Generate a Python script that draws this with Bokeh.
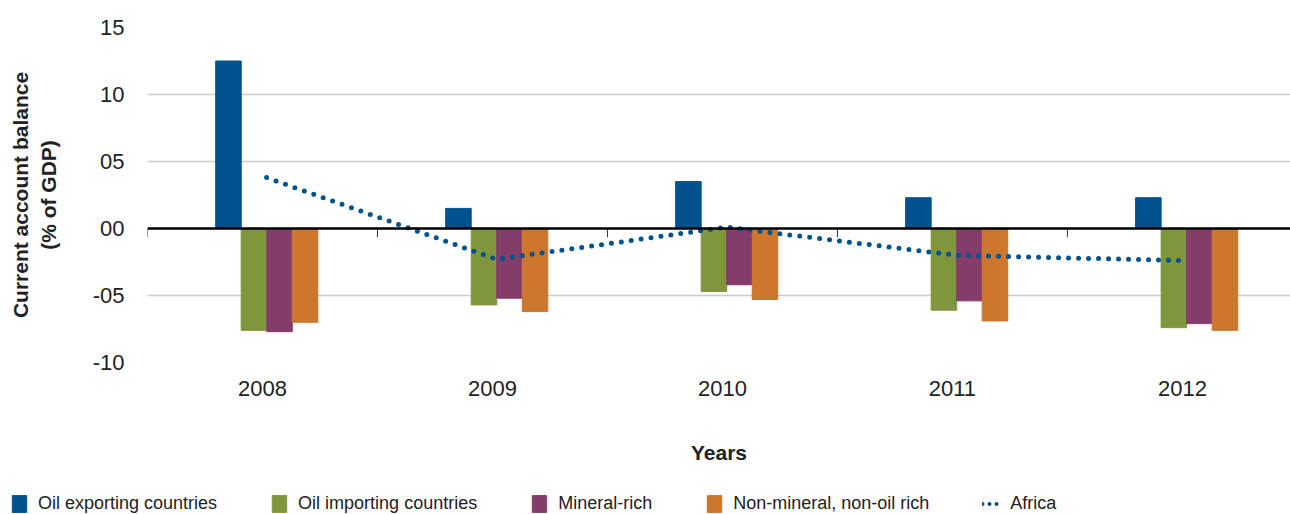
from bokeh.plotting import figure
from bokeh.layouts import column
from bokeh.models import Range1d, FixedTicker, Span, Legend, LegendItem, ColumnDataSource
from bokeh.transform import dodge
from bokeh.embed import file_html
from bokeh.resources import INLINE

years = ["2008", "2009", "2010", "2011", "2012"]
oil_exporting = [12.5, 1.5, 3.5, 2.3, 2.3]
oil_importing = [-7.6, -5.7, -4.7, -6.1, -7.4]
mineral_rich = [-7.7, -5.2, -4.2, -5.4, -7.1]
non_mineral = [-7.0, -6.2, -5.3, -6.9, -7.6]
africa = [3.8, -2.3, 0.1, -2.0, -2.4]
y_ticks = [-10, -5, 0, 5, 10, 15]
y_tick_labels = ["-10", "-05", "00", "05", "10", "15"]
series_names = ["Oil exporting countries", "Oil importing countries", "Mineral-rich",
                "Non-mineral, non-oil rich", "Africa"]

BLUE = "#00528f"
GREEN = "#7f963d"
PURPLE = "#843c6a"
ORANGE = "#cc762e"
FONT = "Liberation Sans"
TXT = "#222222"

idx = list(range(len(years)))
src = ColumnDataSource(dict(x=idx, oil_exporting=oil_exporting, oil_importing=oil_importing,
                            mineral_rich=mineral_rich, non_mineral=non_mineral, africa=africa))

p = figure(width=1290, height=478, x_range=Range1d(-0.5, 4.47), y_range=Range1d(-10, 15),
           output_backend="svg", toolbar_location=None,
           min_border_left=147, min_border_right=0, min_border_top=27, min_border_bottom=116)
p.outline_line_color = None
p.background_fill_color = "white"
p.border_fill_color = "white"

bw = 0.111
p.vbar(x=dodge("x", -0.148), top="oil_exporting", width=bw, color=BLUE, source=src)
p.vbar(x=dodge("x", -0.037), top="oil_importing", width=bw, color=GREEN, source=src)
p.vbar(x=dodge("x", 0.074), top="mineral_rich", width=bw, color=PURPLE, source=src)
p.vbar(x=dodge("x", 0.185), top="non_mineral", width=bw, color=ORANGE, source=src)

bounds = [i - 0.5 for i in idx]
p.segment(x0=bounds, y0=[0] * len(bounds), x1=bounds, y1=[-0.65] * len(bounds),
          line_color="#333333", line_width=1)

p.add_layout(Span(location=0, dimension="width", line_color="black", line_width=2.5))

p.line(x=dodge("x", 0.018), y="africa", source=src, line_color=BLUE, line_width=5,
       line_dash="0 10", line_cap="round")

# axes
p.xgrid.visible = False
p.ygrid.grid_line_color = "#cccccc"
p.ygrid.grid_line_width = 1.5
p.ygrid.ticker = FixedTicker(ticks=y_ticks)

yax = p.yaxis[0]
yax.ticker = FixedTicker(ticks=y_ticks)
yax.major_label_overrides = {t: l for t, l in zip(y_ticks, y_tick_labels)}
yax.axis_line_color = None
yax.major_tick_line_color = None
yax.minor_tick_line_color = None
yax.major_label_text_font = FONT
yax.major_label_text_font_size = "22px"
yax.major_label_text_color = TXT
yax.major_label_standoff = 17
yax.axis_label = "Current account balance\n(% of GDP)"
yax.axis_label_text_font = FONT
yax.axis_label_text_font_style = "bold"
yax.axis_label_text_font_size = "21px"
yax.axis_label_text_color = TXT
yax.axis_label_standoff = 30

xax = p.xaxis[0]
xax.ticker = FixedTicker(ticks=idx)
xax.major_label_overrides = {i: y for i, y in zip(idx, years)}
xax.axis_line_color = None
xax.major_tick_line_color = None
xax.minor_tick_line_color = None
xax.major_label_text_font = FONT
xax.major_label_text_font_size = "22px"
xax.major_label_text_color = TXT
xax.major_label_standoff = 12
xax.axis_label = "Years"
xax.axis_label_text_font = FONT
xax.axis_label_text_font_style = "bold"
xax.axis_label_text_font_size = "21px"
xax.axis_label_text_color = TXT
xax.axis_label_standoff = 42

# legend strip (proxy renderers sit outside its visible range)
lf = figure(width=1290, height=36, x_range=Range1d(100, 101), y_range=Range1d(100, 101),
            output_backend="svg", toolbar_location=None, x_axis_location=None,
            y_axis_location=None, min_border=0, min_border_left=0, min_border_right=0,
            min_border_top=0, min_border_bottom=0)
try:
    lf.frame_align = False
    p.frame_align = False
except Exception:
    pass
lf.outline_line_color = None
lf.grid.visible = False
lf.border_fill_color = "white"
colors = [BLUE, GREEN, PURPLE, ORANGE]
cols = ["oil_exporting", "oil_importing", "mineral_rich", "non_mineral"]
items = []
for name, c, col in zip(series_names[:4], colors, cols):
    r = lf.vbar(x="x", top=col, width=bw, color=c, source=src)
    items.append(LegendItem(label=name, renderers=[r]))
rl = lf.line(x="x", y="africa", source=src, line_color=BLUE, line_width=4,
             line_dash="0 7", line_cap="round")
items.append(LegendItem(label=series_names[4], renderers=[rl]))

legend = Legend(items=items, orientation="horizontal", location=(10, 0))
legend.border_line_color = None
legend.background_fill_alpha = 0
legend.label_text_font = FONT
legend.label_text_font_size = "18px"
legend.label_text_color = TXT
legend.glyph_width = 18
legend.glyph_height = 21
legend.label_standoff = 10
legend.spacing = 53
legend.padding = 0
legend.margin = 0
lf.add_layout(legend, "center")

layout = column(p, lf, spacing=0)
open("out.html", "w").write(file_html(layout, INLINE))
